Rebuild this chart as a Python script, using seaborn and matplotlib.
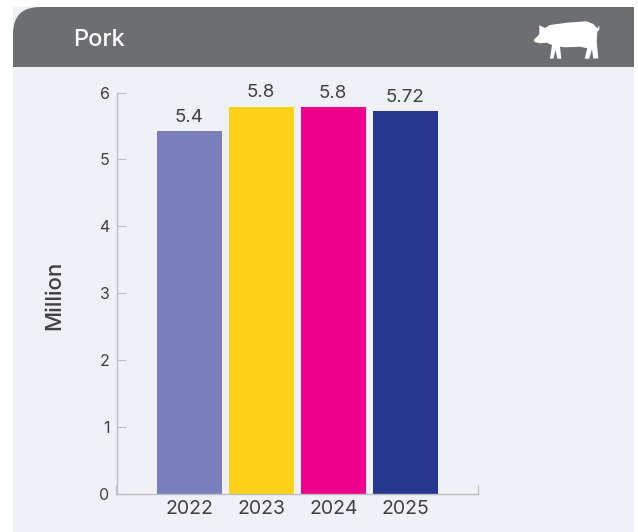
import matplotlib
matplotlib.use('Agg')
import matplotlib.pyplot as plt
import pandas as pd
import seaborn as sns
from matplotlib.patches import PathPatch, Polygon, Rectangle
from matplotlib.path import Path

# values
years = ['2022', '2023', '2024', '2025']
values = [5.42, 5.79, 5.78, 5.72]
value_labels = ['5.4', '5.8', '5.8', '5.72']
bar_colors = ['#7a7fbb', '#ffd118', '#ee008c', '#27378e']
y_ticks = [0, 1, 2, 3, 4, 5, 6]

TEXT = '#414042'
AXIS = '#bcbec0'
PANEL = '#f0f1f6'
HEADER = '#6d6e71'
W, H = 638, 532

sns.set_theme(style='white')
plt.rcParams['font.family'] = ['Inter', 'DejaVu Sans']

fig = plt.figure(figsize=(W / 100, H / 100), dpi=100, facecolor='white')

# background layer in pixel coordinates
bg = fig.add_axes([0, 0, 1, 1])
bg.set_xlim(0, W)
bg.set_ylim(H, 0)
bg.axis('off')
bg.add_patch(Rectangle((13, 7), 621, 525, facecolor=PANEL, edgecolor='none'))
header = Path(
    [(13, 67), (13, 34), (13, 7), (40, 7), (634, 7), (634, 67), (13, 67)],
    [Path.MOVETO, Path.LINETO, Path.CURVE3, Path.CURVE3, Path.LINETO, Path.LINETO, Path.CLOSEPOLY],
)
bg.add_patch(PathPatch(header, facecolor=HEADER, edgecolor='none'))
bg.text(73.5, 46.5, 'Pork', color='white', fontsize=17, va='baseline', ha='left', fontweight='medium')

# pig icon
pig = [(533.7, 40), (539.3, 34.3), (539.3, 25.3), (545, 28), (550, 25), (566.7, 22.7),
       (586.7, 21.3), (593.3, 24), (597.3, 28.3), (599.3, 25.3), (599.3, 30), (597.3, 31.7),
       (596.7, 41.7), (598.3, 58.3), (593.3, 58.7), (592, 49.3), (589.3, 58.7), (584.7, 58.7),
       (587.3, 48.3), (580, 46.7), (565, 47.3), (560, 46.7), (561.3, 58.7), (557.3, 58.7),
       (555.7, 50), (553.3, 58.7), (550, 58.7), (552, 45), (546.7, 42.7), (540, 43.3), (534.7, 42)]
bg.add_patch(Polygon(pig, closed=True, facecolor='white', edgecolor='none'))

# chart area, 116.5-477.5 px across and 92.5-494 px down
ax = fig.add_axes([116.5 / W, 1 - 494 / H, 361 / W, 401.5 / H])
ax.patch.set_alpha(0)

df = pd.DataFrame({'year': years, 'value': values})
sns.barplot(data=df, x='year', y='value', hue='year', palette=bar_colors, legend=False,
            width=0.91, saturation=1, linewidth=0, ax=ax)

ax.set_xlim(-1.014, 4.0)
ax.set_ylim(0, 6)
ax.set_yticks(y_ticks)
ax.set_xlabel('')
ax.set_ylabel('')
sns.despine(ax=ax)
for side in ['left', 'bottom']:
    ax.spines[side].set_color(AXIS)
    ax.spines[side].set_linewidth(1)

ax.tick_params(axis='y', direction='in', length=6.5, width=0.8, color=AXIS,
               labelcolor=TEXT, labelsize=11.5, pad=5, left=True)
ax.tick_params(axis='x', length=0, labelcolor=TEXT, labelsize=14, pad=4)
ax.set_xticks([-1.014, 4.0], minor=True)
ax.tick_params(axis='x', which='minor', direction='in', length=6.5, width=0.8, color=AXIS, bottom=True)

bars = sorted([b for c in ax.containers for b in c], key=lambda b: b.get_x())
for bar, label in zip(bars, value_labels):
    ax.annotate(label, (bar.get_x() + bar.get_width() / 2, bar.get_height()), xytext=(-0.5, 4),
                textcoords='offset points', ha='center', va='bottom', color=TEXT, fontsize=13.5)

fig.text(54.5 / W, 1 - 295.5 / H, 'Million', rotation=90, color=TEXT, fontsize=16,
         ha='center', va='center', fontweight='medium')

fig.savefig('out.png', dpi=100)
